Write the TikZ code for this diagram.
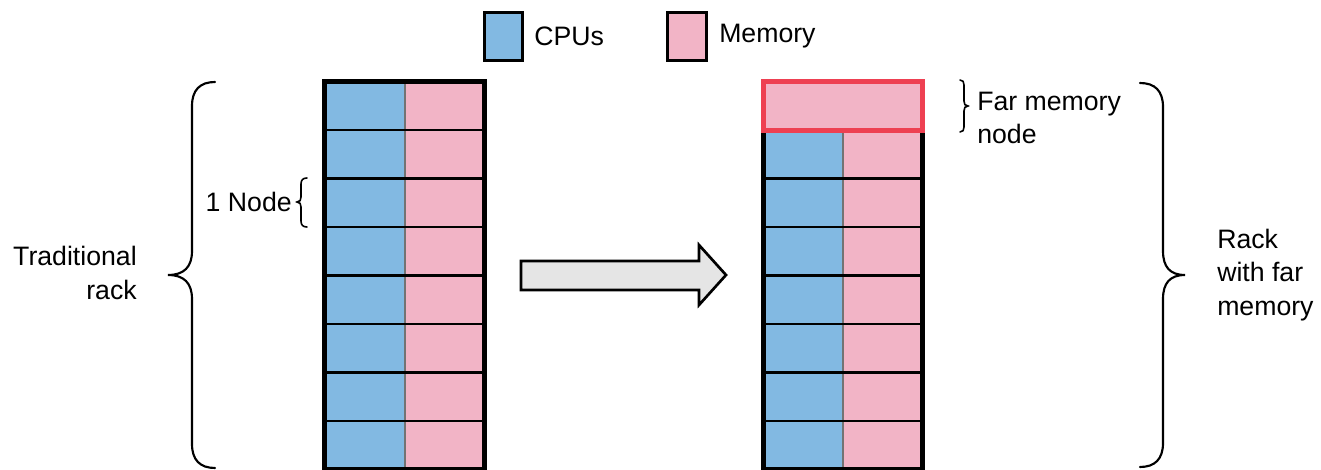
\documentclass[tikz,border=0pt]{standalone}
\usepackage{fontspec}
\setmainfont{Liberation Sans}
\definecolor{cpublue}{RGB}{130,185,226}
\definecolor{mempink}{RGB}{242,180,198}
\definecolor{farred}{RGB}{238,64,82}
\tikzset{
	label text/.style={font=\fontsize{20}{25}\selectfont, inner sep=0pt},
	rack border/.style={line width=3.5pt},
	row line/.style={line width=2pt},
	split line/.style={line width=1.2pt, color=black!55},
	big brace/.style={line width=1.6pt, line cap=round},
	small brace/.style={line width=1.2pt, line cap=round}
}

\begin{document}
\begin{tikzpicture}[x=0.75pt, y=-0.75pt]
		\useasboundingbox (0,0) rectangle (1321,470);
		
		% legend
		\draw [fill=cpublue, line width=2pt] (484.5,12.5) rectangle (522.5,60.5);
		\node[label text, anchor=west] (cpus) at (534,36) {CPUs};
		\draw [fill=mempink, line width=2pt] (667.5,12.5) rectangle (706.5,60.5);
		\node[label text, anchor=west] (memory) at (719,36) {Memory};
		
		% traditional rack
		\fill[cpublue] (324.5,81.5) rectangle (405,469.5);
		\fill[mempink] (405,81.5) rectangle (484.5,469.5);
		\draw[split line] (405,81.5) -- (405,469.5);
		\foreach \i in {1,...,7}
			\draw[row line] (324.5,81.5+48.5*\i) -- (484.5,81.5+48.5*\i);
		\draw[rack border] (324.5,81.5) rectangle (484.5,469.5);
		
		% rack with far memory
		\fill[cpublue] (763.5,130) rectangle (843,469.5);
		\fill[mempink] (843,130) rectangle (922.5,469.5);
		\draw[split line] (843,130) -- (843,469.5);
		\foreach \i in {2,...,7}
			\draw[row line] (763.5,81.5+48.5*\i) -- (922.5,81.5+48.5*\i);
		\draw[rack border] (763.5,130) -- (763.5,469.5) -- (922.5,469.5) -- (922.5,130);
		\draw[rack border, fill=mempink, draw=farred] (763.5,81.5) rectangle (922.5,130.5);
		
		% arrow between the racks
		\draw[fill=black!10, line width=2pt, line join=miter] (521,261) -- (699,261) -- (699,245) -- (726,275) -- (699,305) -- (699,290) -- (521,290) -- cycle;
		
		% braces and labels
		\draw[big brace] (215,82) .. controls (200,82) and (192,90) .. (192,106) -- (192,251)
			.. controls (192,267) and (184,275) .. (168,275) .. controls (184,275) and (192,283) .. (192,299)
			-- (192,444) .. controls (192,460) and (200,468) .. (215,468);
		\node[label text, anchor=east, align=right] (trad) at (137,273) {Traditional\\rack};
		
		\draw[small brace] (307,178) .. controls (303,178) and (301,180) .. (301,184) -- (301,197)
			.. controls (301,200) and (300,202) .. (297,202) .. controls (300,202) and (301,204) .. (301,207)
			-- (301,221) .. controls (301,225) and (303,227) .. (307,227);
		\node[label text, anchor=east] (onenode) at (292,202) {1 Node};
		
		\draw[small brace] (960,80) .. controls (963,80) and (964,82) .. (964,85) -- (964,101)
			.. controls (964,104) and (965,106) .. (968,106) .. controls (965,106) and (964,108) .. (964,111)
			-- (964,127) .. controls (964,130) and (963,132) .. (960,132);
		\node[label text, anchor=west, align=left] (farnode) at (977,118) {Far memory\\node};
		
		\draw[big brace] (1140,83) .. controls (1155,83) and (1163,91) .. (1163,107) -- (1163,251)
			.. controls (1163,267) and (1170,275) .. (1185,275) .. controls (1170,275) and (1163,283) .. (1163,299)
			-- (1163,443) .. controls (1163,459) and (1155,467) .. (1140,467);
		\node[label text, anchor=west, align=left] (farrack) at (1217,275) {Rack\\with far\\memory};
	\end{tikzpicture}
\end{document}
